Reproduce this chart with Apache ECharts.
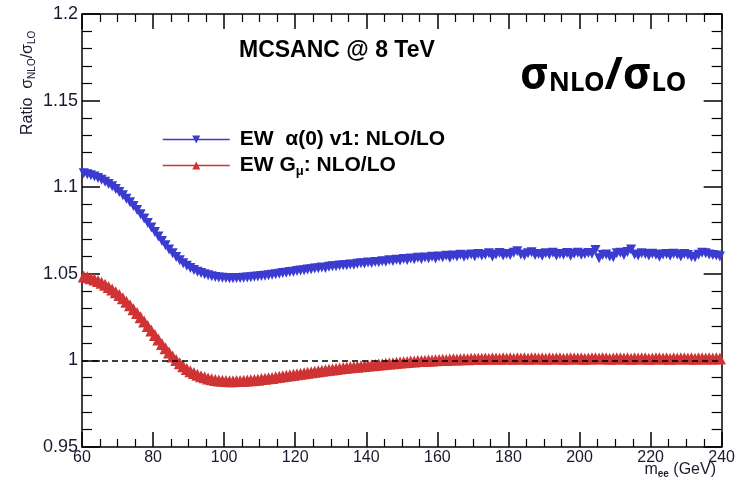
<!DOCTYPE html>
<html>
<head>
<meta charset="utf-8">
<script src="https://cdn.jsdelivr.net/npm/echarts@6/dist/echarts.min.js"></script>
<style>
  html, body { margin: 0; padding: 0; background: #fff; }
  #chart { width: 738px; height: 486px; }
</style>
</head>
<body>
<div id="chart"></div>
<script>
// ---- data ----
const massBins = [
  60.5,61.5,62.5,63.5,64.5,65.5,66.5,67.5,68.5,69.5,
  70.5,71.5,72.5,73.5,74.5,75.5,76.5,77.5,78.5,79.5,
  80.5,81.5,82.5,83.5,84.5,85.5,86.5,87.5,88.5,89.5,
  90.5,91.5,92.5,93.5,94.5,95.5,96.5,97.5,98.5,99.5,
  100.5,101.5,102.5,103.5,104.5,105.5,106.5,107.5,108.5,109.5,
  110.5,111.5,112.5,113.5,114.5,115.5,116.5,117.5,118.5,119.5,
  120.5,121.5,122.5,123.5,124.5,125.5,126.5,127.5,128.5,129.5,
  130.5,131.5,132.5,133.5,134.5,135.5,136.5,137.5,138.5,139.5,
  140.5,141.5,142.5,143.5,144.5,145.5,146.5,147.5,148.5,149.5,
  150.5,151.5,152.5,153.5,154.5,155.5,156.5,157.5,158.5,159.5,
  160.5,161.5,162.5,163.5,164.5,165.5,166.5,167.5,168.5,169.5,
  170.5,171.5,172.5,173.5,174.5,175.5,176.5,177.5,178.5,179.5,
  180.5,181.5,182.5,183.5,184.5,185.5,186.5,187.5,188.5,189.5,
  190.5,191.5,192.5,193.5,194.5,195.5,196.5,197.5,198.5,199.5,
  200.5,201.5,202.5,203.5,204.5,205.5,206.5,207.5,208.5,209.5,
  210.5,211.5,212.5,213.5,214.5,215.5,216.5,217.5,218.5,219.5,
  220.5,221.5,222.5,223.5,224.5,225.5,226.5,227.5,228.5,229.5,
  230.5,231.5,232.5,233.5,234.5,235.5,236.5,237.5,238.5,239.5
];

const ratioAlpha0 = [
  1.1080,1.1075,1.1069,1.1062,1.1053,1.1043,1.1032,1.1019,1.1005,1.0989,
  1.0972,1.0954,1.0934,1.0913,1.0891,1.0868,1.0844,1.0819,1.0794,1.0768,
  1.0742,1.0716,1.0690,1.0665,1.0641,1.0618,1.0597,1.0578,1.0561,1.0546,
  1.0533,1.0522,1.0512,1.0504,1.0497,1.0491,1.0486,1.0482,1.0479,1.0477,
  1.0476,1.0475,1.0475,1.0476,1.0476,1.0477,1.0479,1.0480,1.0483,1.0484,
  1.0487,1.0489,1.0492,1.0494,1.0498,1.0500,1.0504,1.0506,1.0511,1.0512,
  1.0516,1.0519,1.0521,1.0525,1.0526,1.0531,1.0532,1.0536,1.0534,1.0540,
  1.0544,1.0543,1.0548,1.0550,1.0549,1.0554,1.0552,1.0558,1.0561,1.0559,
  1.0565,1.0563,1.0568,1.0566,1.0572,1.0570,1.0578,1.0574,1.0581,1.0577,
  1.0585,1.0580,1.0588,1.0584,1.0592,1.0586,1.0594,1.0590,1.0598,1.0588,
  1.0600,1.0596,1.0604,1.0593,1.0605,1.0600,1.0610,1.0598,1.0606,1.0612,
  1.0602,1.0614,1.0605,1.0610,1.0618,1.0600,1.0612,1.0620,1.0606,1.0614,
  1.0608,1.0622,1.0630,1.0612,1.0606,1.0618,1.0624,1.0608,1.0615,1.0604,
  1.0619,1.0612,1.0622,1.0606,1.0614,1.0610,1.0620,1.0604,1.0616,1.0622,
  1.0610,1.0614,1.0620,1.0616,1.0638,1.0590,1.0608,1.0612,1.0600,1.0596,
  1.0618,1.0622,1.0608,1.0626,1.0640,1.0612,1.0606,1.0618,1.0614,1.0606,
  1.0616,1.0610,1.0598,1.0612,1.0614,1.0604,1.0616,1.0612,1.0600,1.0614,
  1.0608,1.0598,1.0596,1.0610,1.0622,1.0618,1.0612,1.0608,1.0606,1.0600
];

const ratioGmu = [
  1.0485,1.0480,1.0474,1.0467,1.0458,1.0448,1.0437,1.0424,1.0410,1.0394,
  1.0377,1.0359,1.0339,1.0318,1.0296,1.0273,1.0249,1.0224,1.0199,1.0173,
  1.0147,1.0121,1.0095,1.0070,1.0046,1.0023,1.0002,0.9983,0.9966,0.9951,
  0.9938,0.9927,0.9917,0.9909,0.9902,0.9896,0.9891,0.9887,0.9884,0.9882,
  0.9881,0.9880,0.9880,0.9881,0.9881,0.9882,0.9884,0.9885,0.9887,0.9889,
  0.9892,0.9894,0.9897,0.9899,0.9902,0.9905,0.9908,0.9911,0.9914,0.9917,
  0.9920,0.9923,0.9926,0.9929,0.9932,0.9935,0.9938,0.9940,0.9943,0.9946,
  0.9948,0.9951,0.9953,0.9956,0.9958,0.9960,0.9962,0.9964,0.9966,0.9968,
  0.9970,0.9972,0.9974,0.9976,0.9978,0.9980,0.9982,0.9984,0.9986,0.9988,
  0.9990,0.9991,0.9993,0.9994,0.9996,0.9997,0.9998,0.9999,1.0000,1.0001,
  1.0002,1.0004,1.0003,1.0005,1.0006,1.0005,1.0007,1.0008,1.0007,1.0009,
  1.0009,1.0010,1.0009,1.0011,1.0010,1.0012,1.0011,1.0010,1.0012,1.0011,
  1.0012,1.0010,1.0013,1.0011,1.0012,1.0010,1.0012,1.0013,1.0011,1.0012,
  1.0010,1.0012,1.0011,1.0013,1.0012,1.0010,1.0011,1.0012,1.0013,1.0011,
  1.0012,1.0010,1.0011,1.0013,1.0012,1.0011,1.0014,1.0012,1.0010,1.0011,
  1.0012,1.0013,1.0011,1.0012,1.0010,1.0012,1.0011,1.0013,1.0012,1.0010,
  1.0011,1.0012,1.0013,1.0011,1.0012,1.0010,1.0012,1.0011,1.0013,1.0012,
  1.0011,1.0012,1.0010,1.0012,1.0013,1.0011,1.0012,1.0011,1.0012,1.0011
];

const seriesNames = ['EW  α(0) v1: NLO/LO', 'EW Gμ: NLO/LO'];
const referenceLevel = [1];
const xRange = [60, 240];
const yRange = [0.95, 1.2];

// ---- build ----
function pairs(xs, ys) { return xs.map((x, i) => [x, ys[i]]); }

const BLUE = '#3b3bd0';
const RED = '#cf3333';
const TXT = '#1a1a2e';
const FONT = "'Liberation Sans', Arial, sans-serif";

const chart = echarts.init(document.getElementById('chart'), null, { renderer: 'canvas' });

const axisCommon = {
  type: 'value',
  axisLine: { show: true, onZero: false, lineStyle: { color: '#000', width: 1.5 } },
  splitLine: { show: false },
  minorSplitLine: { show: false }
};

chart.setOption({
  animation: false,
  backgroundColor: '#fff',
  grid: { left: 82, right: 16, top: 14, bottom: 39, containLabel: false },
  xAxis: [
    Object.assign({}, axisCommon, {
      position: 'bottom', min: xRange[0], max: xRange[1], interval: 20,
      axisTick: { show: true, inside: true, length: 15, lineStyle: { color: '#000', width: 1.5 } },
      minorTick: { show: true, splitNumber: 4, length: 8, lineStyle: { color: '#000', width: 1.2 } },
      axisLabel: { show: true, color: TXT, fontFamily: FONT, fontSize: 16, margin: 3 }
    }),
    Object.assign({}, axisCommon, {
      position: 'top', min: xRange[0], max: xRange[1], interval: 20,
      axisTick: { show: true, inside: true, length: 15, lineStyle: { color: '#000', width: 1.5 } },
      minorTick: { show: true, splitNumber: 4, length: 8, lineStyle: { color: '#000', width: 1.2 } },
      axisLabel: { show: false }
    })
  ],
  yAxis: [
    Object.assign({}, axisCommon, {
      position: 'left', min: yRange[0], max: yRange[1], interval: 0.05,
      axisTick: { show: true, inside: true, length: 18, lineStyle: { color: '#000', width: 1.5 } },
      minorTick: { show: true, splitNumber: 5, length: 10, lineStyle: { color: '#000', width: 1.2 } },
      axisLabel: { show: true, color: TXT, fontFamily: FONT, fontSize: 18, margin: 4,
        formatter: v => String(Math.round(v * 100) / 100) }
    }),
    Object.assign({}, axisCommon, {
      position: 'right', min: yRange[0], max: yRange[1], interval: 0.05,
      axisTick: { show: true, inside: true, length: 18, lineStyle: { color: '#000', width: 1.5 } },
      minorTick: { show: true, splitNumber: 5, length: 10, lineStyle: { color: '#000', width: 1.2 } },
      axisLabel: { show: false }
    })
  ],
  legend: {
    orient: 'vertical',
    left: 157, top: 124,
    itemWidth: 67, itemHeight: 10, itemGap: 5,
    data: seriesNames,
    lineStyle: { width: 1.5, opacity: 1 },
    formatter: name => name.indexOf('Gμ') >= 0 ? 'EW G{sub|μ}: NLO/LO' : name,
    textStyle: {
      fontFamily: FONT, fontWeight: 'bold', fontSize: 21, color: '#000',
      padding: [0, 0, 0, 5],
      rich: { sub: { fontFamily: FONT, fontSize: 13, color: '#000', padding: [12, 0, 0, 0] } }
    }
  },
  series: [
    {
      name: seriesNames[0], type: 'line',
      data: pairs(massBins, ratioAlpha0),
      symbol: 'triangle', symbolRotate: 180, symbolSize: 10,
      showSymbol: true, showAllSymbol: true,
      lineStyle: { width: 0, color: BLUE },
      itemStyle: { color: BLUE },
      clip: true, z: 3
    },
    {
      name: seriesNames[1], type: 'line',
      data: pairs(massBins, ratioGmu),
      symbol: 'triangle', symbolSize: 12,
      showSymbol: true, showAllSymbol: true,
      lineStyle: { width: 0, color: RED },
      itemStyle: { color: RED },
      clip: true, z: 2,
      markLine: {
        silent: true, symbol: 'none', animation: false,
        label: { show: false },
        lineStyle: { color: '#000', type: [6, 4], width: 1.5 },
        data: referenceLevel.map(v => ({ yAxis: v }))
      }
    }
  ],
  graphic: [
    {
      type: 'text', left: 239, top: 39,
      style: { text: 'MCSANC @ 8 TeV', font: "bold 23px 'Liberation Sans', Arial, sans-serif", fill: '#000' }
    },
    {
      type: 'text', x: 520, y: 76,
      style: {
        text: '{s|σ}{b|NLO}{s|/σ}{b|LO}',
        verticalAlign: 'middle', align: 'left',
        rich: {
          s: { font: "bold 44px 'Noto Sans', sans-serif", fill: '#000' },
          b: { font: "bold 26px 'Noto Sans', sans-serif", fill: '#000', padding: [16, 0, 0, 0] }
        }
      }
    },
    {
      type: 'text', x: 28, y: 135, rotation: Math.PI / 2,
      style: {
        text: 'Ratio  σ{sub|NLO}/σ{sub|LO}',
        align: 'left', verticalAlign: 'middle',
        font: "16px 'Liberation Sans', Arial, sans-serif", fill: TXT,
        rich: { sub: { font: "10px 'Liberation Sans', Arial, sans-serif", fill: TXT, padding: [8, 0, 0, 0] } }
      }
    },
    {
      type: 'text', x: 716, y: 470,
      style: {
        text: 'm{sub|ee} (GeV)',
        align: 'right', verticalAlign: 'middle',
        font: "16px 'Liberation Sans', Arial, sans-serif", fill: TXT,
        rich: { sub: { font: "bold 10px 'Liberation Sans', Arial, sans-serif", fill: TXT, padding: [8, 0, 0, 0] } }
      }
    }
  ]
});
</script>
</body>
</html>
